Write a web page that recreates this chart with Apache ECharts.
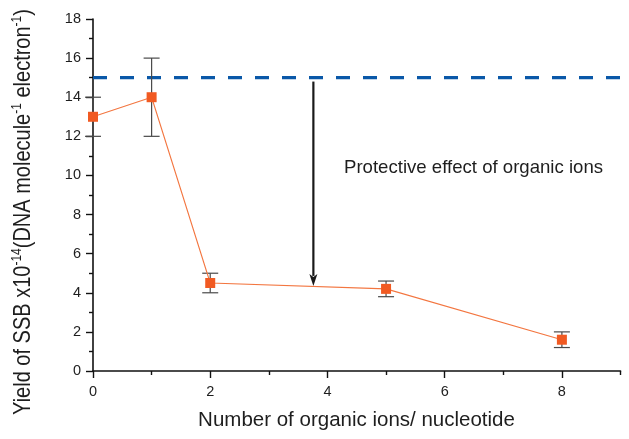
<!DOCTYPE html>
<html>
<head>
<meta charset="utf-8">
<script src="https://cdn.jsdelivr.net/npm/echarts@6/dist/echarts.min.js"></script>
<style>html,body{margin:0;padding:0;background:#fff}#chart{width:629px;height:439px}</style>
</head>
<body>
<div id="chart"></div>
<script>
// ---- data ----
const ionsPerNucleotide = [0, 1, 2, 5, 8];
const ssbYield = [13, 14, 4.5, 4.2, 1.6];
const errLow = [12, 12, 4.0, 3.8, 1.2];
const errHigh = [14, 16, 5.0, 4.6, 2.0];
const referenceLevel = 15;
const referenceSpan = [0, 9];
const arrowX = 3.76;
const arrowFromTo = [14.8, 4.35];
const xMajorTicks = [0, 2, 4, 6, 8];
const xMinorTicks = [1, 3, 5, 7, 9];
const yRange = [0, 18];
const yInterval = 2;
const xTitle = 'Number of organic ions/ nucleotide';
const annotation = 'Protective effect of organic ions';

const FONT = '"Liberation Sans", Arial, Helvetica, sans-serif';
const chart = echarts.init(document.getElementById('chart'), null, {renderer: 'canvas'});

const points = ionsPerNucleotide.map((x, i) => [x, ssbYield[i]]);
const errData = ionsPerNucleotide.map((x, i) => [x, errLow[i], errHigh[i]]);

const option = {
  animation: false,
  backgroundColor: '#fff',
  grid: {left: 93, right: 8.5, top: 19, bottom: 68, containLabel: false},
  xAxis: [{
    type: 'value', min: referenceSpan[0], max: referenceSpan[1], interval: 1,
    axisLine: {show: true, lineStyle: {color: '#111', width: 1.6}},
    axisTick: {show: true, inside: false, length: 7, customValues: xMajorTicks, lineStyle: {color: '#111', width: 1.4}},
    axisLabel: {customValues: xMajorTicks, color: '#1e1e1e', fontSize: 14.5, fontFamily: FONT, margin: 13},
    splitLine: {show: false}
  }, {
    type: 'value', min: referenceSpan[0], max: referenceSpan[1], interval: 1, position: 'bottom',
    axisLine: {show: false},
    axisTick: {show: true, length: 4, customValues: xMinorTicks, lineStyle: {color: '#111', width: 1.4}},
    axisLabel: {show: false},
    splitLine: {show: false}
  }],
  yAxis: {
    type: 'value', min: yRange[0], max: yRange[1], interval: yInterval,
    axisLine: {show: true, lineStyle: {color: '#111', width: 1.6}},
    axisTick: {show: true, inside: false, length: 7, lineStyle: {color: '#111', width: 1.4}},
    minorTick: {show: true, splitNumber: 2, length: 4, lineStyle: {color: '#111', width: 1.4}},
    axisLabel: {color: '#1e1e1e', fontSize: 14.5, fontFamily: FONT, margin: 12},
    splitLine: {show: false}
  },
  graphic: [{
    type: 'text', x: 23, y: 212, rotation: Math.PI / 2, scaleY: 1.2,
    style: {
      text: '{m|Yield of SSB x10}{s|-14}{m|(DNA molecule}{s|-1}{m| electron}{s|-1}{m|)}',
      fill: '#1e1e1e', align: 'center', verticalAlign: 'middle',
      rich: {
        m: {fontSize: 20, fontFamily: FONT, lineHeight: 22, fill: '#1e1e1e'},
        s: {fontSize: 12, fontFamily: FONT, lineHeight: 8, verticalAlign: 'top', fill: '#1e1e1e'}
      }
    }
  }, {
    type: 'text', x: 356.5, y: 420,
    style: {text: xTitle, fill: '#1e1e1e', fontSize: 20.5, fontFamily: FONT, align: 'center', verticalAlign: 'middle'}
  }, {
    type: 'text', x: 344, y: 168,
    style: {text: annotation, fill: '#1e1e1e', fontSize: 18.6, fontFamily: FONT, align: 'left', verticalAlign: 'middle'}
  }],
  series: [{
    name: 'reference', type: 'line', xAxisIndex: 0, silent: true, symbol: 'none', z: 1,
    data: [[referenceSpan[0], referenceLevel], [referenceSpan[1], referenceLevel]],
    lineStyle: {color: '#0a58a8', width: 3.3, type: [14, 13], cap: 'butt'}
  }, {
    name: 'arrow', type: 'custom', xAxisIndex: 0, silent: true, z: 2,
    data: [[arrowX, arrowFromTo[0], arrowFromTo[1]]],
    renderItem: function (params, api) {
      const p0 = api.coord([api.value(0), api.value(1)]);
      const p1 = api.coord([api.value(0), api.value(2)]);
      const hw = 4, hl = 12;
      return {type: 'group', children: [
        {type: 'line', shape: {x1: p0[0], y1: p0[1], x2: p1[0], y2: p1[1] - hl + 2}, style: {stroke: '#1a1a1a', lineWidth: 2.2}},
        {type: 'polygon', shape: {points: [[p1[0] - hw, p1[1] - hl], [p1[0], p1[1] - hl + 3], [p1[0] + hw, p1[1] - hl], [p1[0], p1[1]]]}, style: {fill: '#1a1a1a'}}
      ]};
    }
  }, {
    name: 'errors', type: 'custom', xAxisIndex: 0, silent: true, z: 3,
    data: errData,
    renderItem: function (params, api) {
      const x = api.value(0);
      const lo = api.coord([x, api.value(1)]);
      const hi = api.coord([x, api.value(2)]);
      const w = 8;
      const st = {stroke: '#4a4a4a', lineWidth: 1.2};
      return {type: 'group', children: [
        {type: 'line', shape: {x1: lo[0], y1: lo[1], x2: hi[0], y2: hi[1]}, style: st},
        {type: 'line', shape: {x1: lo[0] - w, y1: lo[1], x2: lo[0] + w, y2: lo[1]}, style: st},
        {type: 'line', shape: {x1: hi[0] - w, y1: hi[1], x2: hi[0] + w, y2: hi[1]}, style: st}
      ]};
    }
  }, {
    name: 'SSB yield', type: 'line', xAxisIndex: 0, z: 4,
    data: points, symbol: 'rect', symbolSize: 10,
    itemStyle: {color: '#f15a22'},
    lineStyle: {color: '#f37640', width: 1.1}
  }]
};
chart.setOption(option);
</script>
</body>
</html>
